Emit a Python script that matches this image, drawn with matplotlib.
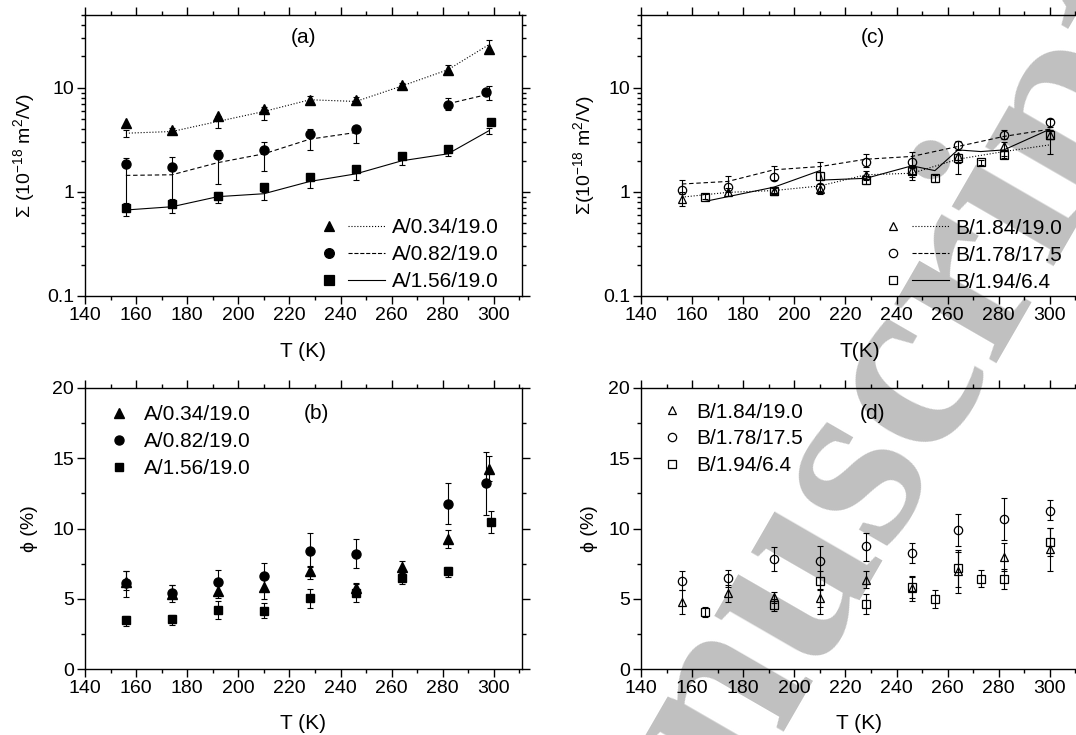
import numpy as np
import matplotlib
matplotlib.use("Agg")
import matplotlib.pyplot as plt
from matplotlib.lines import Line2D
from matplotlib.legend_handler import HandlerTuple
from matplotlib.ticker import MultipleLocator, LogLocator, FixedLocator, FuncFormatter, NullFormatter

plt.rcParams["font.family"] = ["Liberation Sans", "DejaVu Sans"]
plt.rcParams["mathtext.fontset"] = "custom"
plt.rcParams["mathtext.rm"] = "Liberation Sans"
plt.rcParams["mathtext.it"] = "Liberation Sans:italic"

# ---------------- panel (a): sigma, series A ----------------
a_T1 = [156, 174, 192, 210, 228, 246, 264, 282, 298]
a_T2 = [156, 174, 192, 210, 228, 246, 282, 297]
a_T3 = [156, 174, 192, 210, 228, 246, 264, 282, 299]
a_pts1 = [4.57, 3.89, 5.30, 6.28, 7.67, 7.60, 10.7, 14.9, 23.5]
a_pts2 = [1.86, 1.75, 2.27, 2.54, 3.58, 4.01, 6.81, 9.16]
a_pts3 = [0.707, 0.767, 0.916, 1.11, 1.40, 1.66, 2.19, 2.59, 4.71]

a_lineT = [156, 174, 192, 210, 228, 246, 264, 282, 298]
a_line1 = [3.66, 3.80, 4.75, 5.92, 7.67, 7.39, 10.4, 14.9, 25.9]
a_line1_lo = [3.35, 3.65, 4.10, 4.85, 7.13, 6.85, 9.9, 13.6, 23.2]
a_line1_hi = [3.95, 4.10, 5.30, 6.60, 8.25, 8.07, 11.1, 16.6, 29.0]
a_line2 = [1.44, 1.46, 1.91, 2.32, 3.21, 3.72, np.nan, 7.02, 8.69]
a_line2_lo = [0.70, 0.78, 1.19, 1.60, 2.53, 2.98, np.nan, 6.15, 7.67]
a_line2_hi = [2.11, 2.16, 2.53, 3.00, 4.00, 4.31, np.nan, 7.94, 10.4]
a_line3 = [0.67, 0.72, 0.90, 0.96, 1.26, 1.49, 1.99, 2.32, 3.86]
a_line3_lo = [0.59, 0.63, 0.78, 0.83, 1.08, 1.30, 1.82, 2.19, 3.61]
a_line3_hi = [0.79, 0.86, 1.00, 1.00, 1.42, 1.69, 2.11, 2.53, 4.10]

# ---------------- panel (b): phi, series A ----------------
b_T1 = [156, 174, 192, 210, 228, 246, 264, 282, 298]
b_v1 = [6.22, 5.34, 5.58, 5.87, 6.94, 5.75, 7.29, 9.26, 14.25]
b_lo1 = [5.63, 5.04, 5.04, 4.96, 6.39, 5.39, 6.86, 8.60, 13.35]
b_hi1 = [6.94, 5.99, 6.10, 6.58, 7.34, 6.10, 7.72, 9.90, 15.13]
b_T2 = [156, 174, 192, 210, 228, 246, 282, 297]
b_v2 = [6.10, 5.40, 6.22, 6.63, 8.41, 8.22, 11.76, 13.21]
b_lo2 = [5.15, 4.80, 5.44, 5.68, 7.29, 7.17, 10.33, 10.93]
b_hi2 = [6.94, 5.99, 7.05, 7.53, 9.71, 9.24, 13.23, 15.46]
b_T3 = [156, 174, 192, 210, 228, 246, 264, 282, 299]
b_v3 = [3.49, 3.54, 4.20, 4.13, 5.04, 5.39, 6.46, 6.96, 10.45]
b_lo3 = [3.06, 3.14, 3.59, 3.61, 4.37, 4.80, 6.03, 6.58, 9.71]
b_hi3 = [3.78, 3.85, 4.87, 4.68, 5.68, 6.03, 6.86, 7.24, 11.21]

# ---------------- panel (c): sigma, series B ----------------
c_T1 = [156, 174, 192, 210, 228, 246, 264, 282, 300]
c_v1 = [0.85, 0.99, 1.03, 1.06, 1.46, 1.63, 2.20, 2.73, 3.53]
c_lo1 = [0.73, 0.92, 0.96, 0.95, 1.30, 1.30, 1.50, 2.20, 2.30]
c_hi1 = [1.00, 1.08, 1.10, 1.20, 1.60, 1.75, 2.30, 3.00, 3.90]
c_T2 = [156, 174, 192, 210, 228, 246, 264, 282, 300]
c_v2 = [1.04, 1.11, 1.40, 1.12, 1.93, 1.92, 2.83, 3.53, 4.64]
c_lo2 = [0.95, 1.00, 1.30, 1.00, 1.75, 1.70, 2.50, 3.20, 4.20]
c_hi2 = [1.30, 1.42, 1.79, 1.93, 2.32, 2.39, 3.05, 3.89, 5.00]
c_T3 = [165, 192, 210, 228, 246, 255, 264, 273, 282, 300]
c_v3 = [0.90, 1.03, 1.42, 1.30, 1.60, 1.35, 2.10, 1.93, 2.27, 3.53]
c_lo3 = [0.86, 0.97, 1.30, 1.18, 1.40, 1.25, 1.90, 1.83, 2.10, 3.20]
c_hi3 = [0.95, 1.10, 1.55, 1.42, 1.80, 1.45, 2.30, 2.03, 2.45, 3.90]

c_lineT1 = [156, 174, 192, 210, 228, 246, 264, 282, 300]
c_line1 = [0.89, 0.99, 1.03, 1.14, 1.46, 1.51, 2.06, 2.44, 2.83]
c_line2 = [1.19, 1.26, 1.63, 1.75, 2.06, 2.19, 2.73, 3.41, 4.00]
c_lineT3 = [165, 192, 210, 211, 228, 246, 255, 264, 273, 282, 300]
c_line3 = [0.81, 1.11, 1.60, 1.30, 1.35, 1.78, 1.60, 2.53, 2.44, 2.53, 4.00]

# ---------------- panel (d): phi, series B ----------------
d_T1 = [156, 174, 192, 210, 228, 246, 264, 282, 300]
d_v1 = [4.80, 5.39, 5.15, 5.04, 6.34, 5.75, 6.94, 7.96, 8.53]
d_lo1 = [3.92, 4.80, 4.68, 4.44, 5.75, 4.87, 5.39, 6.94, 7.01]
d_hi1 = [5.63, 5.99, 5.51, 5.68, 6.94, 6.63, 8.48, 8.95, 10.02]
d_T2 = [156, 174, 192, 210, 228, 246, 264, 282, 300]
d_v2 = [6.29, 6.51, 7.81, 7.72, 8.72, 8.24, 9.90, 10.71, 11.28]
d_lo2 = [5.63, 5.87, 7.01, 3.92, 7.72, 7.53, 8.76, 9.19, 10.57]
d_hi2 = [6.94, 7.05, 8.67, 8.72, 9.71, 9.00, 11.05, 12.16, 12.00]
d_T3 = [165, 192, 210, 228, 246, 255, 264, 273, 282, 300]
d_v3 = [4.04, 4.56, 6.29, 4.61, 5.82, 4.96, 7.17, 6.41, 6.39, 9.07]
d_lo3 = [3.73, 4.16, 5.63, 3.92, 5.04, 4.32, 5.87, 5.82, 5.68, 8.05]
d_hi3 = [4.44, 4.96, 6.94, 5.32, 6.58, 5.63, 8.36, 7.05, 7.10, 10.02]

labels_A = ["A/0.34/19.0", "A/0.82/19.0", "A/1.56/19.0"]
labels_B = ["B/1.84/19.0", "B/1.78/17.5", "B/1.94/6.4"]

FS = 14
LFS = 15
EB = dict(fmt="none", ecolor="k", elinewidth=0.8, capsize=2.5, capthick=0.8)


def yerr(v, lo, hi):
    v, lo, hi = np.array(v), np.array(lo), np.array(hi)
    return [v - lo, hi - v]


def style_axes(ax, log):
    ax.set_facecolor("none")
    ax.set_xlim(140, 311)
    ax.xaxis.set_major_locator(MultipleLocator(20))
    ax.xaxis.set_minor_locator(MultipleLocator(10))
    if log:
        ax.set_yscale("log")
        ax.set_ylim(0.1, 50)
        ax.yaxis.set_major_locator(FixedLocator([0.1, 1, 10]))
        ax.yaxis.set_major_formatter(FuncFormatter(lambda v, p: "%g" % v))
        ax.yaxis.set_minor_locator(LogLocator(subs=np.arange(2, 10)))
        ax.yaxis.set_minor_formatter(NullFormatter())
    else:
        ax.set_ylim(0, 20)
        ax.yaxis.set_major_locator(MultipleLocator(5))
        ax.yaxis.set_minor_locator(MultipleLocator(2.5))
    ax.tick_params(which="both", direction="out", top=True, right=True,
                   width=1, labelsize=FS, pad=2)
    ax.tick_params(which="major", length=6)
    ax.tick_params(which="minor", length=3)
    for s in ax.spines.values():
        s.set_linewidth(1)


def tuple_legend(ax, markers, styles, labels, filled, anchor):
    handles = []
    for m, ls in zip(markers, styles):
        mk = Line2D([], [], marker=m, ls="none", color="k", ms=7 if filled else 6,
                    mfc="k" if filled else "none", mew=0.9)
        ln = Line2D([], [], ls=ls, color="k", lw=0.8)
        handles.append((mk, ln))
    ax.legend(handles, labels, handler_map={tuple: HandlerTuple(ndivide=None, pad=0.0)},
              loc="lower right", bbox_to_anchor=anchor, frameon=False, fontsize=LFS,
              handlelength=3.6, handletextpad=0.3, labelspacing=0.38, borderaxespad=0)


def marker_legend(ax, handles, labels, anchor):
    ax.legend(handles, labels, loc="upper left", bbox_to_anchor=anchor, frameon=False,
              fontsize=LFS, handlelength=1.0, handletextpad=0.7, labelspacing=0.38,
              borderaxespad=0)


fig = plt.figure(figsize=(10.76, 7.35), dpi=100)
fig.patch.set_facecolor("white")

W, H = 1076.0, 735.0
axa = fig.add_axes([85 / W, 1 - 296 / H, 437 / W, 281 / H])
axb = fig.add_axes([85 / W, 1 - 669 / H, 437 / W, 281 / H])
axc = fig.add_axes([641 / W, 1 - 296 / H, 437 / W, 281 / H])
axd = fig.add_axes([641 / W, 1 - 669 / H, 437 / W, 281 / H])

# watermark behind everything
fig.text(740 / W, 1 - 795 / H, "nuscript", rotation=60, rotation_mode="anchor",
         ha="left", va="baseline", fontsize=185, fontweight="bold",
         family="Liberation Serif", color="#c0c0c0", zorder=-5)

# (a)
style_axes(axa, True)
axa.errorbar(a_lineT, a_line1, yerr=yerr(a_line1, a_line1_lo, a_line1_hi), **EB)
axa.errorbar(a_lineT, a_line2, yerr=yerr(a_line2, a_line2_lo, a_line2_hi), **EB)
axa.errorbar(a_lineT, a_line3, yerr=yerr(a_line3, a_line3_lo, a_line3_hi), **EB)
axa.plot(a_lineT, a_line1, color="k", ls=":", lw=0.8)
axa.plot(a_lineT, a_line2, color="k", ls="--", lw=0.8, dashes=(4, 2.5))
axa.plot(a_lineT, a_line3, color="k", ls="-", lw=0.8)
axa.plot(a_T1, a_pts1, "k^", ms=7.5)
axa.plot(a_T2, a_pts2, "ko", ms=6.5)
axa.plot(a_T3, a_pts3, "ks", ms=6)
tuple_legend(axa, ["^", "o", "s"], [":", "--", "-"], labels_A, True, (0.965, -0.012))
axa.text(0.5, 0.92, "(a)", transform=axa.transAxes, ha="center", va="center", fontsize=LFS)
axa.set_ylabel("Σ (10$^{-18}$ m$^2$/V)", fontsize=FS)
axa.yaxis.set_label_coords(-0.110, 0.5)
axa.set_xlabel("T (K)", fontsize=LFS)
axa.xaxis.set_label_coords(0.5, -0.165)

# (b)
style_axes(axb, False)
axb.errorbar(b_T1, b_v1, yerr=yerr(b_v1, b_lo1, b_hi1), **EB)
axb.errorbar(b_T2, b_v2, yerr=yerr(b_v2, b_lo2, b_hi2), **EB)
axb.errorbar(b_T3, b_v3, yerr=yerr(b_v3, b_lo3, b_hi3), **EB)
hb1, = axb.plot(b_T1, b_v1, "k^", ms=7.5, ls="none")
hb2, = axb.plot(b_T2, b_v2, "ko", ms=6.5, ls="none")
hb3, = axb.plot(b_T3, b_v3, "ks", ms=6, ls="none")
marker_legend(axb, [hb1, hb2, hb3], labels_A, (0.035, 0.969))
axb.text(0.53, 0.91, "(b)", transform=axb.transAxes, ha="center", va="center", fontsize=LFS)
axb.set_ylabel("ϕ (%)", fontsize=FS)
axb.yaxis.set_label_coords(-0.108, 0.5)
axb.set_xlabel("T (K)", fontsize=LFS)
axb.xaxis.set_label_coords(0.5, -0.16)

# (c)
style_axes(axc, True)
axc.errorbar(c_T1, c_v1, yerr=yerr(c_v1, c_lo1, c_hi1), **EB)
axc.errorbar(c_T2, c_v2, yerr=yerr(c_v2, c_lo2, c_hi2), **EB)
axc.errorbar(c_T3, c_v3, yerr=yerr(c_v3, c_lo3, c_hi3), **EB)
axc.plot(c_lineT1, c_line1, color="k", ls=":", lw=0.8)
axc.plot(c_lineT1, c_line2, color="k", ls="--", lw=0.8, dashes=(4, 2.5))
axc.plot(c_lineT3, c_line3, color="k", ls="-", lw=0.8)
axc.plot(c_T1, c_v1, "k^", ms=6, mfc="none", mew=0.9)
axc.plot(c_T2, c_v2, "ko", ms=6, mfc="none", mew=0.9)
axc.plot(c_T3, c_v3, "ks", ms=5.5, mfc="none", mew=0.9)
tuple_legend(axc, ["^", "o", "s"], [":", "--", "-"], labels_B, False, (0.983, -0.014))
axc.text(0.53, 0.92, "(c)", transform=axc.transAxes, ha="center", va="center", fontsize=LFS)
axc.set_ylabel("Σ(10$^{-18}$ m$^2$/V)", fontsize=FS)
axc.yaxis.set_label_coords(-0.100, 0.5)
axc.set_xlabel("T(K)", fontsize=LFS)
axc.xaxis.set_label_coords(0.5, -0.165)

# (d)
style_axes(axd, False)
axd.errorbar(d_T1, d_v1, yerr=yerr(d_v1, d_lo1, d_hi1), **EB)
axd.errorbar(d_T2, d_v2, yerr=yerr(d_v2, d_lo2, d_hi2), **EB)
axd.errorbar(d_T3, d_v3, yerr=yerr(d_v3, d_lo3, d_hi3), **EB)
hd1, = axd.plot(d_T1, d_v1, "k^", ms=6, mfc="none", mew=0.9, ls="none")
hd2, = axd.plot(d_T2, d_v2, "ko", ms=6, mfc="none", mew=0.9, ls="none")
hd3, = axd.plot(d_T3, d_v3, "ks", ms=5.5, mfc="none", mew=0.9, ls="none")
marker_legend(axd, [hd1, hd2, hd3], labels_B, (0.027, 0.978))
axd.text(0.53, 0.91, "(d)", transform=axd.transAxes, ha="center", va="center", fontsize=LFS)
axd.set_ylabel("ϕ (%)", fontsize=FS)
axd.yaxis.set_label_coords(-0.098, 0.5)
axd.set_xlabel("T (K)", fontsize=LFS)
axd.xaxis.set_label_coords(0.5, -0.16)

fig.savefig("out.png", dpi=100)
